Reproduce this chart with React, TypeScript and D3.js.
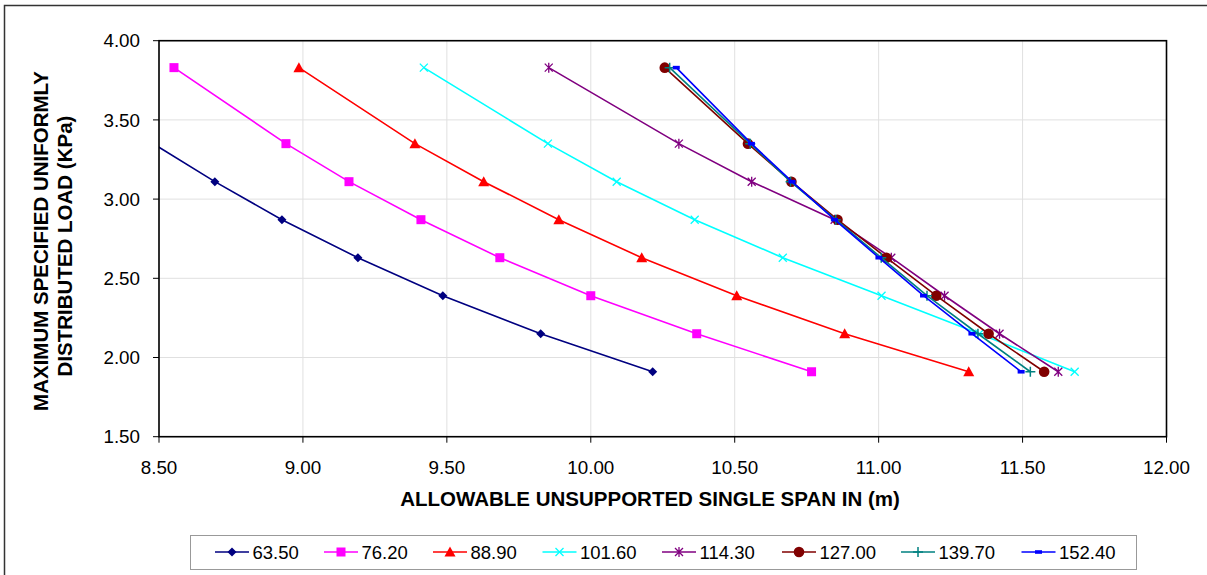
import React from "react";
import * as d3 from "d3";

const loads = [3.83, 3.35, 3.11, 2.87, 2.63, 2.39, 2.15, 1.91];
const seriesNames = ["63.50", "76.20", "88.90", "101.60", "114.30", "127.00", "139.70", "152.40"];
const span6350 = [8.12, 8.48, 8.694, 8.927, 9.191, 9.486, 9.826, 10.215];
const span7620 = [8.552, 8.941, 9.16, 9.41, 9.684, 10.0, 10.368, 10.767];
const span8890 = [8.986, 9.389, 9.628, 9.889, 10.177, 10.507, 10.882, 11.313];
const span10160 = [9.42, 9.851, 10.09, 10.361, 10.667, 11.01, 11.35, 11.681];
const span11430 = [9.854, 10.306, 10.559, 10.847, 11.044, 11.229, 11.42, 11.624];
const span12700 = [10.257, 10.546, 10.697, 10.857, 11.027, 11.2, 11.382, 11.575];
const span13970 = [10.274, 10.554, 10.694, 10.851, 11.009, 11.168, 11.345, 11.527];
const span15240 = [10.297, 10.558, 10.699, 10.847, 11.001, 11.156, 11.324, 11.495];
const xTicks = [8.5, 9.0, 9.5, 10.0, 10.5, 11.0, 11.5, 12.0];
const yTicks = [1.5, 2.0, 2.5, 3.0, 3.5, 4.0];

const colors = ["#000080", "#FF00FF", "#FF0000", "#00FFFF", "#800080", "#800000", "#008080", "#0000FF"];
const markerKinds = ["diamond", "square", "triangle", "x", "star", "circle", "plus", "dash"];
const allSpans = [span6350, span7620, span8890, span10160, span11430, span12700, span13970, span15240];

const W = 1207, H = 575;
const L = 159, R = 1166.5, T = 40.7, B = 436.7;
const x = d3.scaleLinear().domain([8.5, 12]).range([L, R]);
const y = d3.scaleLinear().domain([1.5, 4]).range([B, T]);
const FONT = "'Liberation Sans', Arial, sans-serif";

function Marker({ kind, cx, cy, color }: { kind: string; cx: number; cy: number; color: string }) {
  switch (kind) {
    case "diamond":
      return <path d={`M${cx},${cy - 4.5}L${cx + 4.5},${cy}L${cx},${cy + 4.5}L${cx - 4.5},${cy}Z`} fill={color} />;
    case "square":
      return <rect x={cx - 4.5} y={cy - 4.5} width={9} height={9} fill={color} />;
    case "triangle":
      return <path d={`M${cx},${cy - 5.5}L${cx + 5.5},${cy + 4.5}L${cx - 5.5},${cy + 4.5}Z`} fill={color} />;
    case "x":
      return <path d={`M${cx - 4},${cy - 4}L${cx + 4},${cy + 4}M${cx - 4},${cy + 4}L${cx + 4},${cy - 4}`} stroke={color} strokeWidth={1.3} />;
    case "star":
      return <path d={`M${cx - 4},${cy - 4}L${cx + 4},${cy + 4}M${cx - 4},${cy + 4}L${cx + 4},${cy - 4}M${cx},${cy - 5}L${cx},${cy + 5}`} stroke={color} strokeWidth={1.3} />;
    case "circle":
      return <circle cx={cx} cy={cy} r={5.3} fill={color} />;
    case "plus":
      return <path d={`M${cx - 5},${cy}L${cx + 5},${cy}M${cx},${cy - 5}L${cx},${cy + 5}`} stroke={color} strokeWidth={1.5} />;
    case "dash":
    default:
      return <rect x={cx - 3.5} y={cy - 1.8} width={7} height={3.6} fill={color} />;
  }
}

export default function App() {
  const line = d3.line<[number, number]>().x((d) => x(d[0])).y((d) => y(d[1]));
  const legendItems = [215, 324, 433, 542.5, 662, 782, 901, 1021.5];
  return (
    <svg width={W} height={H} style={{ position: "absolute", left: 0, top: 0, display: "block" }} fontFamily={FONT}>
      <rect x={0} y={0} width={W} height={H} fill="#fff" />
      <path d={`M4.5,${H}L4.5,5.5L${W},5.5`} fill="none" stroke="#333" strokeWidth={1.5} />
      <defs>
        <clipPath id="plotclip">
          <rect x={L} y={T} width={R - L} height={B - T} />
        </clipPath>
      </defs>
      {xTicks.map((t) => (
        <line key={"gx" + t} x1={x(t)} x2={x(t)} y1={T} y2={B} stroke="#e0e0e0" strokeWidth={1} />
      ))}
      {yTicks.map((t) => (
        <line key={"gy" + t} x1={L} x2={R} y1={y(t)} y2={y(t)} stroke="#e0e0e0" strokeWidth={1} />
      ))}
      <g clipPath="url(#plotclip)">
        {allSpans.map((sp, i) => {
          const pts: [number, number][] = sp.map((v, j) => [v, loads[j]]);
          return (
            <g key={i}>
              <path d={line(pts) || ""} fill="none" stroke={colors[i]} strokeWidth={1.6} />
              {pts.map((p, j) => (
                <Marker key={j} kind={markerKinds[i]} cx={x(p[0])} cy={y(p[1])} color={colors[i]} />
              ))}
            </g>
          );
        })}
      </g>
      <rect x={L} y={T} width={R - L} height={B - T} fill="none" stroke="#000" strokeWidth={1.6} />
      {yTicks.map((t) => (
        <g key={"yt" + t}>
          <line x1={L - 6} x2={L} y1={y(t)} y2={y(t)} stroke="#000" />
          <text x={140} y={y(t)} dy="0.36em" textAnchor="end" fontSize={18.8} fill="#000">
            {d3.format(".2f")(t)}
          </text>
        </g>
      ))}
      {xTicks.map((t) => (
        <g key={"xt" + t}>
          <line x1={x(t)} x2={x(t)} y1={B} y2={B + 6} stroke="#000" />
          <text x={x(t)} y={467.5} dy="0.36em" textAnchor="middle" fontSize={18.8} fill="#000">
            {d3.format(".2f")(t)}
          </text>
        </g>
      ))}
      <text x={650} y={499} dy="0.36em" textAnchor="middle" fontSize={20.5} fontWeight="bold">
        ALLOWABLE UNSUPPORTED SINGLE SPAN IN (m)
      </text>
      <g transform="translate(41,241) rotate(-90)">
        <text x={0} y={0} dy="0.36em" textAnchor="middle" fontSize={20.5} fontWeight="bold">
          MAXIMUM SPECIFIED UNIFORMLY
        </text>
      </g>
      <g transform="translate(64.5,246) rotate(-90)">
        <text x={0} y={0} dy="0.36em" textAnchor="middle" fontSize={20.5} fontWeight="bold">
          DISTRIBUTED LOAD (KPa)
        </text>
      </g>
      <rect x={190.5} y={535.5} width={946} height={34} fill="#fff" stroke="#999" strokeWidth={1} />
      {seriesNames.map((n, i) => {
        const lx = legendItems[i];
        return (
          <g key={"lg" + n}>
            <line x1={lx} x2={lx + 34} y1={552} y2={552} stroke={colors[i]} strokeWidth={1.6} />
            <Marker kind={markerKinds[i]} cx={lx + 17} cy={552} color={colors[i]} />
            <text x={lx + 37.5} y={552} dy="0.36em" fontSize={18.5} fill="#000">
              {n}
            </text>
          </g>
        );
      })}
    </svg>
  );
}
